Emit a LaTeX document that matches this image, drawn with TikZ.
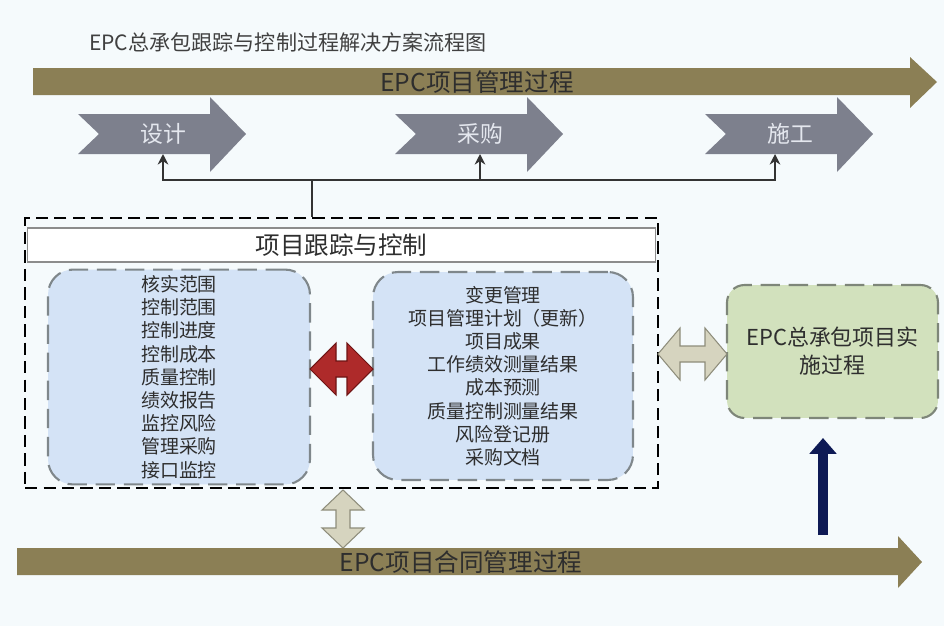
\documentclass[tikz,border=0pt]{standalone}
\usepackage{fontspec}
\setmainfont{Noto Sans CJK SC}
\usetikzlibrary{arrows.meta}
\definecolor{bgwhite}{HTML}{F5FAFC}
\definecolor{barolive}{HTML}{8B7F55}
\definecolor{chevgray}{HTML}{7D808D}
\definecolor{chevtext}{HTML}{E4E7EE}
\definecolor{txtdark}{HTML}{2E2E2E}
\definecolor{boxblue}{HTML}{D4E3F6}
\definecolor{boxgray}{HTML}{7F878B}
\definecolor{boxgreen}{HTML}{D2E1BD}
\definecolor{greenline}{HTML}{7E8679}
\definecolor{arrred}{HTML}{AE2A2A}
\definecolor{arrreddark}{HTML}{6E1414}
\definecolor{arrbeige}{HTML}{D6D4BF}
\definecolor{beigeline}{HTML}{8E8D7B}
\definecolor{navyarr}{HTML}{0E1A55}

\begin{document}
\begin{tikzpicture}[x=0.02cm, y=-0.02cm,
	bar/.style={fill=barolive},
	chev/.style={fill=chevgray},
	bartxt/.style={font=\fontsize{14}{16}\selectfont, text=txtdark},
	chevtxt/.style={font=\fontsize{13}{15}\selectfont, text=chevtext},
	inbox/.style={draw=boxgray, fill=boxblue, line width=1.2pt, dash pattern=on 11pt off 5pt, rounded corners=0.5cm},
	listtxt/.style={align=center, text=txtdark, font=\fontsize{10.8}{13.2}\selectfont},
	link/.style={draw=black!80, line width=0.9pt},
	beige/.style={fill=arrbeige, draw=beigeline, line width=0.6pt}]
	\fill[bgwhite] (0,0) rectangle (944,626);
	\useasboundingbox (0,0) rectangle (944,626);
	\node[anchor=west, font=\fontsize{12}{14}\selectfont, text=black!75] (title) at (83,42) {EPC总承包跟踪与控制过程解决方案流程图};
	\fill[bar] (33,68) -- (910,68) -- (910,57) -- (937,82) -- (910,108) -- (910,95) -- (33,95) -- cycle;
	\node[bartxt] (epcgl) at (477,82) {EPC项目管理过程};
	\foreach \x/\t/\n in {78/设计/sj, 395/采购/cg, 705/施工/sg}{
		\fill[chev] (\x,114) -- (\x+132,114) -- (\x+132,97) -- (\x+168,134) -- (\x+132,172) -- (\x+132,154) -- (\x,154) -- (\x+21,134) -- cycle;
		\node[chevtxt] (\n) at (\x+85,134) {\t};
	}
	\coordinate (sjb) at (163,154);
	\coordinate (cgb) at (480,154);
	\coordinate (sgb) at (775,154);
	\coordinate (hub) at (312,180);
	\node[draw=black, line width=1.6pt, dash pattern=on 7pt off 3.5pt,
	minimum width=12.66cm, minimum height=5.4cm] (track) at (341.5,353) {};
	\node[draw=black!45, fill=white, line width=1pt,
	minimum width=12.56cm, minimum height=0.68cm,
	font=\fontsize{14}{16}\selectfont, text=txtdark] (hdr) at (341.5,245) {项目跟踪与控制};
	\draw[link] (track.north -| hub) -- (hub);
	\draw[link,-{Stealth[length=6pt,width=6pt]}] (hub) -| (sjb);
	\draw[link,-{Stealth[length=6pt,width=6pt]}] (hub) -| (cgb);
	\draw[link,-{Stealth[length=6pt,width=6pt]}] (hub) -| (sgb);
	\node[inbox, listtxt, minimum width=5.24cm, minimum height=4.2cm] (lb) at (179,377)
	{核实范围\\控制范围\\控制进度\\控制成本\\质量控制\\绩效报告\\监控风险\\管理采购\\接口监控};
	\node[inbox, listtxt, minimum width=5.2cm, minimum height=4.16cm] (rb) at (503,376)
	{变更管理\\项目管理计划（更新）\\项目成果\\工作绩效测量结果\\成本预测\\质量控制测量结果\\风险登记册\\采购文档};
	\node[inbox, fill=boxgreen, draw=greenline, rounded corners=0.35cm,
	minimum width=4.22cm, minimum height=2.66cm, align=center, text=txtdark,
	font=\fontsize{12.5}{16}\selectfont] (impl) at (832.5,351.5) {EPC总承包项目实\\施过程};
	\filldraw[fill=arrred, draw=arrreddark, line width=0.6pt] (310,369) -- (336,343) -- (336,361) -- (347,361) -- (347,343) -- (373,369) -- (347,395) -- (347,377) -- (336,377) -- (336,395) -- cycle;
	\filldraw[beige] (658,354) -- (680,328) -- (680,346) -- (705,346) -- (705,328) -- (727,354) -- (705,380) -- (705,362) -- (680,362) -- (680,380) -- cycle;
	\filldraw[beige] (343,490) -- (364,510) -- (350,510) -- (350,528) -- (364,528) -- (343,548) -- (322,528) -- (336,528) -- (336,510) -- (322,510) -- cycle;
	\fill[bar] (17,548) -- (898,548) -- (898,536) -- (922,562) -- (898,588) -- (898,575) -- (17,575) -- cycle;
	\node[bartxt] (htgl) at (461,562) {EPC项目合同管理过程};
	\coordinate (nvs) at (823,535);
	\coordinate (nvt) at (823,438);
	\draw[navyarr, line width=5.5pt, -{Triangle[width=15pt,length=9pt]}] (nvs) -- (nvt);
\end{tikzpicture}
\end{document}
